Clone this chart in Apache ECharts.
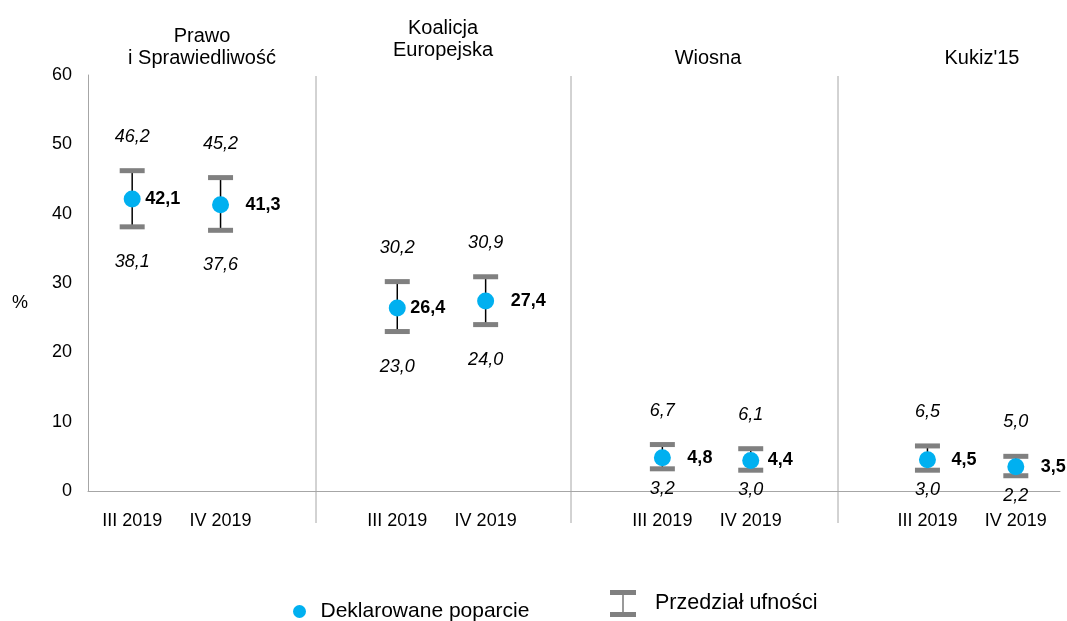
<!DOCTYPE html>
<html>
<head>
<meta charset="utf-8">
<script src="https://cdn.jsdelivr.net/npm/echarts@6/dist/echarts.min.js"></script>
<style>
  html, body { margin: 0; padding: 0; background: #fff; }
  #chart { width: 1067px; height: 621px; }
</style>
</head>
<body>
<div id="chart"></div>
<script>
const parties = ['Prawo\ni Sprawiedliwość', 'Koalicja\nEuropejska', 'Wiosna', "Kukiz'15"];
const periods = ['III 2019', 'IV 2019'];
const support = [42.1, 41.3, 26.4, 27.4, 4.8, 4.4, 4.5, 3.5];
const lower = [38.1, 37.6, 23.0, 24.0, 3.2, 3.0, 3.0, 2.2];
const upper = [46.2, 45.2, 30.2, 30.9, 6.7, 6.1, 6.5, 5.0];

// odstęp etykiety wartości od środka punktu (px), jak w oryginale
const labelGaps = [13, 25, 13, 25, 25, 17, 24, 25];

const FONT = "'Liberation Sans', Arial, sans-serif";
const fmt = v => v.toFixed(1).replace('.', ',');

// dwa okresy na partię, pusta kolumna pomiędzy partiami
const categories = [];
const slots = [];
parties.forEach((p, i) => {
  if (i > 0) categories.push('');
  periods.forEach(per => {
    slots.push(categories.length);
    categories.push(per);
  });
});

const pointData = support.map((v, i) => ({
  value: [slots[i], v],
  label: { distance: labelGaps[i] - 8.5 }
}));
const rangeData = lower.map((v, i) => [slots[i], v, upper[i]]);

// nagłówki partii, opis osi i linie podziału
const titlePos = [[202, 47], [443, 39], [708, 58], [982, 58]];
const graphics = parties.map((p, i) => ({
  type: 'text',
  x: titlePos[i][0],
  y: titlePos[i][1],
  style: {
    text: p, fontSize: 20, fontFamily: FONT, fill: '#000',
    align: 'center', verticalAlign: 'middle', lineHeight: 22
  }
}));
graphics.push({
  type: 'text', x: 20, y: 303,
  style: { text: '%', fontSize: 18, fontFamily: FONT, fill: '#000', align: 'center', verticalAlign: 'middle' }
});
[316, 571, 838].forEach(x => {
  graphics.push({
    type: 'line',
    shape: { x1: x, y1: 76, x2: x, y2: 523 },
    style: { stroke: '#a6a6a6', lineWidth: 1 }
  });
});

const chart = echarts.init(document.getElementById('chart'));
chart.setOption({
  animation: false,
  textStyle: { fontFamily: FONT },
  grid: { left: 88, right: 7, top: 75, bottom: 130 },
  legend: [
    {
      data: ['Deklarowane poparcie'],
      left: 293, top: 601, padding: 0,
      itemWidth: 32, itemHeight: 13,
      textStyle: { fontSize: 21, color: '#000' }
    },
    {
      data: [{
        name: 'Przedział ufności',
        icon: 'path://M0,0H26V5H0Z M12.2,5H13.8V22H12.2Z M0,22H26V27H0Z'
      }],
      left: 610, top: 590, padding: 0,
      itemWidth: 26, itemHeight: 27,
      textStyle: { fontSize: 21.5, color: '#000', padding: [0, 0, 0, 14] }
    }
  ],
  xAxis: {
    type: 'category',
    data: categories,
    axisLine: { lineStyle: { color: '#a6a6a6' } },
    axisTick: { show: false },
    axisLabel: { fontSize: 18, color: '#000', margin: 21, interval: 0 }
  },
  yAxis: {
    type: 'value',
    min: 0, max: 60, interval: 10,
    axisLine: { show: true, lineStyle: { color: '#a6a6a6' } },
    axisTick: { show: false },
    splitLine: { show: false },
    axisLabel: { fontSize: 18, color: '#000', margin: 16 }
  },
  graphic: graphics,
  series: [
    {
      name: 'Przedział ufności',
      type: 'custom',
      itemStyle: { color: '#808080' },
      encode: { x: 0, y: [1, 2] },
      data: rangeData,
      z: 2,
      renderItem: (params, api) => {
        const lo = api.coord([api.value(0), api.value(1)]);
        const hi = api.coord([api.value(0), api.value(2)]);
        const x = lo[0];
        const capW = 25, capH = 5;
        let loY = lo[1] + 35;
        if (loY > 500) loY = lo[1] + 20;
        const label = (txt, y) => ({
          type: 'text', x: x, y: y,
          style: {
            text: txt, fontSize: 18, fontStyle: 'italic', fontFamily: FONT,
            fill: '#000', align: 'center', verticalAlign: 'middle'
          }
        });
        return {
          type: 'group',
          children: [
            { type: 'line', shape: { x1: x, y1: hi[1], x2: x, y2: lo[1] },
              style: { stroke: '#000', lineWidth: 1.5 } },
            { type: 'rect', shape: { x: x - capW / 2, y: hi[1] - capH / 2, width: capW, height: capH },
              style: { fill: '#808080' } },
            { type: 'rect', shape: { x: x - capW / 2, y: lo[1] - capH / 2, width: capW, height: capH },
              style: { fill: '#808080' } },
            label(fmt(api.value(2)), hi[1] - 34),
            label(fmt(api.value(1)), loY)
          ]
        };
      }
    },
    {
      name: 'Deklarowane poparcie',
      type: 'scatter',
      data: pointData,
      symbolSize: 17,
      itemStyle: { color: '#00b0f0', opacity: 1 },
      z: 3,
      label: {
        show: true,
        position: 'right',
        fontSize: 18,
        fontWeight: 'bold',
        color: '#000',
        formatter: p => fmt(p.value[1])
      }
    }
  ]
});
</script>
</body>
</html>
